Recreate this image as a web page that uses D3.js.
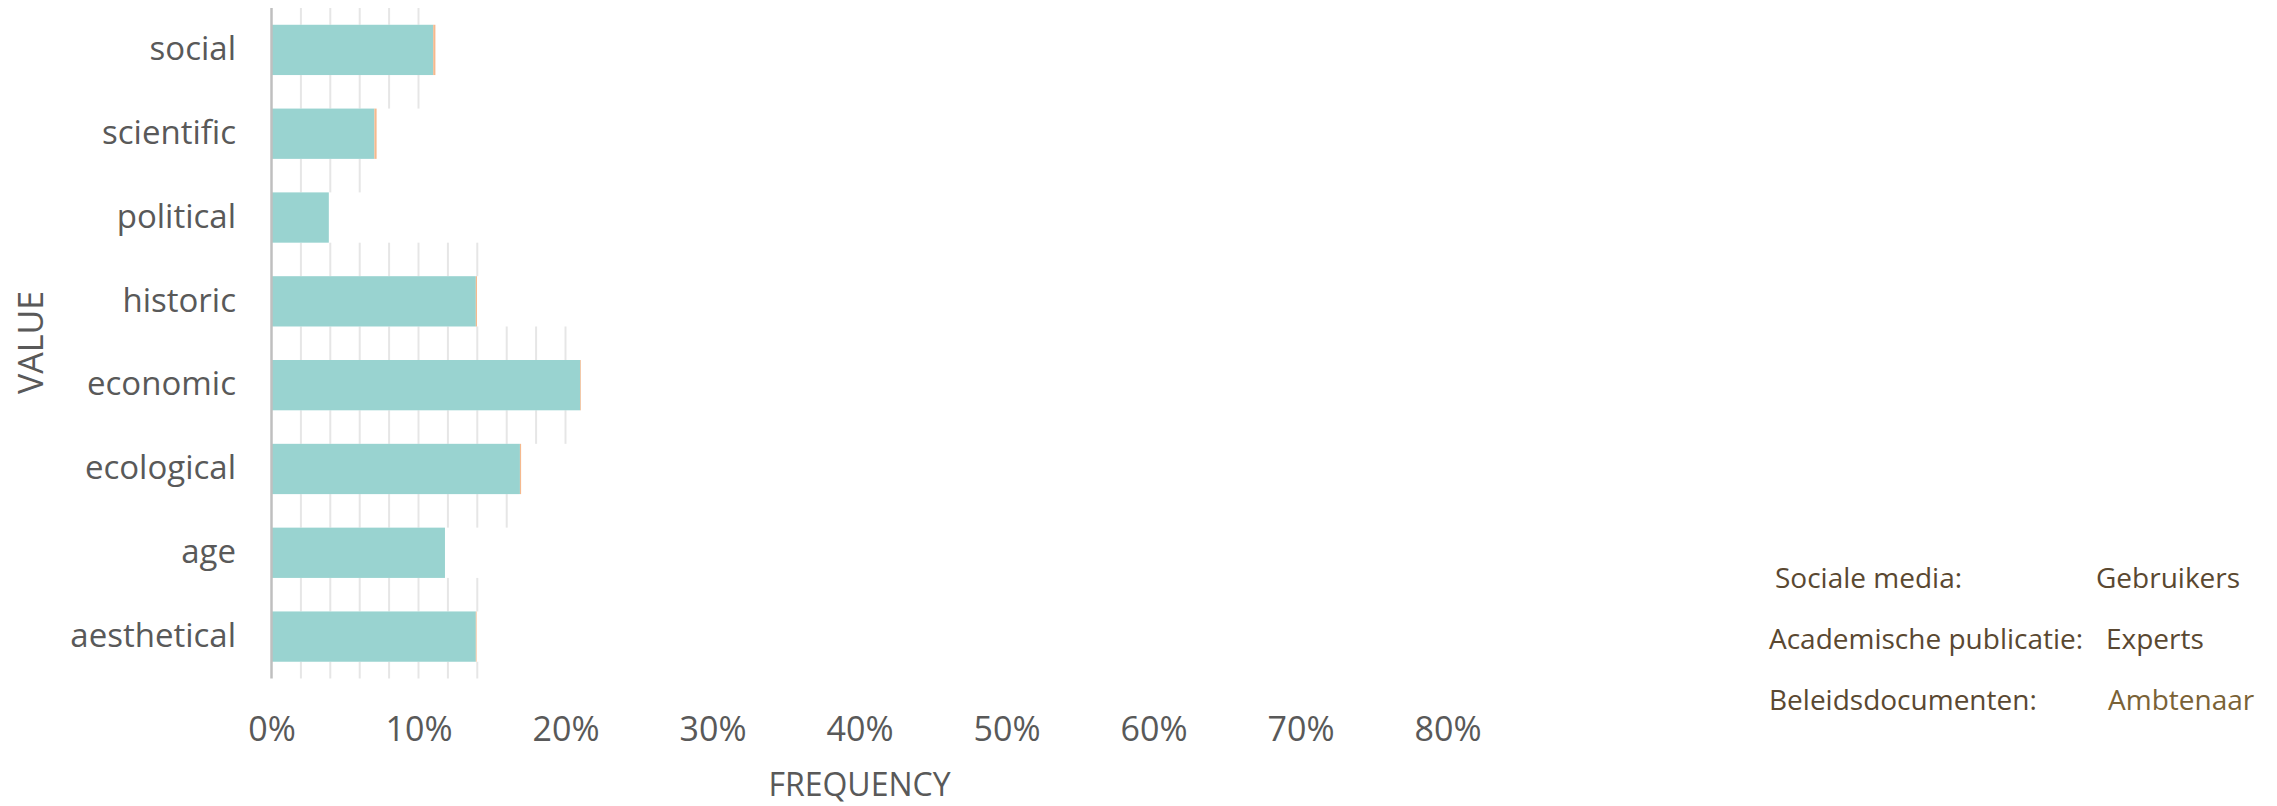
<!doctype html>
<html>
<head>
<meta charset="UTF-8">
<title>Value frequency</title>
<script src="https://cdn.jsdelivr.net/npm/d3@7"></script>
<style>
  body { margin: 0; background: #fff; }
  text { font-family: "Open Sans", sans-serif; }
</style>
</head>
<body>
<svg id="chart" width="2277" height="806"></svg>
<script>
// data
var categories = ["social", "scientific", "political", "historic", "economic", "ecological", "age", "aesthetical"];
var mainValues = [0.110, 0.070, 0.039, 0.139, 0.210, 0.169, 0.118, 0.139];
// thin orange slivers at the end of some bars
var minorValues = [0.0015, 0.0015, 0, 0.0008, 0.0005, 0.0008, 0, 0.0005];
var xTicks = [0, 0.1, 0.2, 0.3, 0.4, 0.5, 0.6, 0.7, 0.8];
var gridStep = 0.02;
var legendSources = ["Sociale media:", "Academische publicatie:", "Beleidsdocumenten:"];
var legendGroups = ["Gebruikers", "Experts", "Ambtenaar"];

var svg = d3.select("#chart"),
    plotLeft = 271.5, plotRight = 1447.5,
    plotTop = 8, plotBottom = 678.5;

var rows = categories.map(function(c, i) {
  return { cat: c, main: mainValues[i], minor: minorValues[i] };
});

var x = d3.scaleLinear().domain([0, 0.8]).range([plotLeft, plotRight]);
var y = d3.scaleBand().domain(categories).range([plotTop, plotBottom])
  .paddingInner(0.4).paddingOuter(0.2);
var colour = d3.scaleOrdinal().domain(["main", "minor"]).range(["#99d3d0", "#f5b98e"]);

var stacked = d3.stack().keys(["main", "minor"])(rows);

// gridlines only show in the gaps between bars, up to the longer neighbour
var gaps = [];
categories.forEach(function(c, i) {
  var top = i === 0 ? plotTop : y(categories[i - 1]) + y.bandwidth();
  var reach = i === 0 ? mainValues[i] : Math.max(mainValues[i], mainValues[i - 1]);
  gaps.push({ y0: top, y1: y(c), reach: reach });
});
gaps.push({ y0: y(categories[categories.length - 1]) + y.bandwidth(), y1: plotBottom,
  reach: mainValues[mainValues.length - 1] });

var grid = svg.append("g").attr("class", "grid");
gaps.forEach(function(g) {
  var ticks = d3.range(gridStep, g.reach + 0.003, gridStep);
  grid.selectAll(null)
    .data(ticks)
    .enter().append("line")
    .attr("x1", function(d) { return x(d); })
    .attr("x2", function(d) { return x(d); })
    .attr("y1", g.y0)
    .attr("y2", g.y1)
    .attr("stroke", "#e6e6e6")
    .attr("stroke-width", 2);
});

svg.append("g")
  .selectAll("g")
  .data(stacked)
  .enter().append("g")
  .attr("fill", function(d) { return colour(d.key); })
  .selectAll("rect")
  .data(function(d) { return d; })
  .enter().append("rect")
  .attr("x", function(d) { return x(d[0]); })
  .attr("y", function(d) { return y(d.data.cat); })
  .attr("width", function(d) { return Math.max(0, x(d[1]) - x(d[0])); })
  .attr("height", y.bandwidth());

// category axis
var yAxis = svg.append("g")
  .attr("transform", "translate(" + plotLeft + ",0)")
  .call(d3.axisLeft(y).tickSize(0).tickPadding(35.5));
yAxis.select(".domain").remove();
yAxis.selectAll("text")
  .attr("font-size", 33)
  .attr("font-family", "Open Sans, sans-serif")
  .attr("fill", "#595959")
  .attr("dy", "0.31em");

svg.append("line")
  .attr("x1", plotLeft).attr("x2", plotLeft)
  .attr("y1", plotTop).attr("y2", plotBottom)
  .attr("stroke", "#bfbfbf")
  .attr("stroke-width", 2.5);

// frequency axis
var xAxis = svg.append("g")
  .attr("transform", "translate(0," + plotBottom + ")")
  .call(d3.axisBottom(x).tickValues(xTicks).tickFormat(d3.format(".0%")).tickSize(0));
xAxis.select(".domain").remove();
xAxis.selectAll("text")
  .attr("font-size", 34)
  .attr("font-family", "Open Sans, sans-serif")
  .attr("fill", "#595959")
  .attr("y", 62)
  .attr("dy", 0);

svg.append("text")
  .attr("x", (plotLeft + plotRight) / 2)
  .attr("y", 796)
  .attr("text-anchor", "middle")
  .attr("font-size", 32)
  .attr("fill", "#595959")
  .text("FREQUENCY");

svg.append("text")
  .attr("transform", "translate(43,342.5) rotate(-90)")
  .attr("text-anchor", "middle")
  .attr("font-size", 34)
  .attr("fill", "#595959")
  .text("VALUE");

// source / audience notes at the right
var legend = svg.append("g").attr("class", "legend");
legend.selectAll(".src")
  .data(legendSources)
  .enter().append("text")
  .attr("class", "src")
  .attr("x", function(d, i) { return i === 0 ? 1775 : 1769; })
  .attr("y", function(d, i) { return 588 + i * 61; })
  .attr("font-size", 28)
  .attr("fill", "#5a4831")
  .text(function(d) { return d; });

legend.selectAll(".grp")
  .data(legendGroups)
  .enter().append("text")
  .attr("class", "grp")
  .attr("x", function(d, i) { return [2096, 2106, 2108][i]; })
  .attr("y", function(d, i) { return 588 + i * 61; })
  .attr("font-size", 28)
  .attr("fill", function(d, i) { return i === 2 ? "#7a6236" : "#5a4831"; })
  .text(function(d) { return d; });
</script>
</body>
</html>
